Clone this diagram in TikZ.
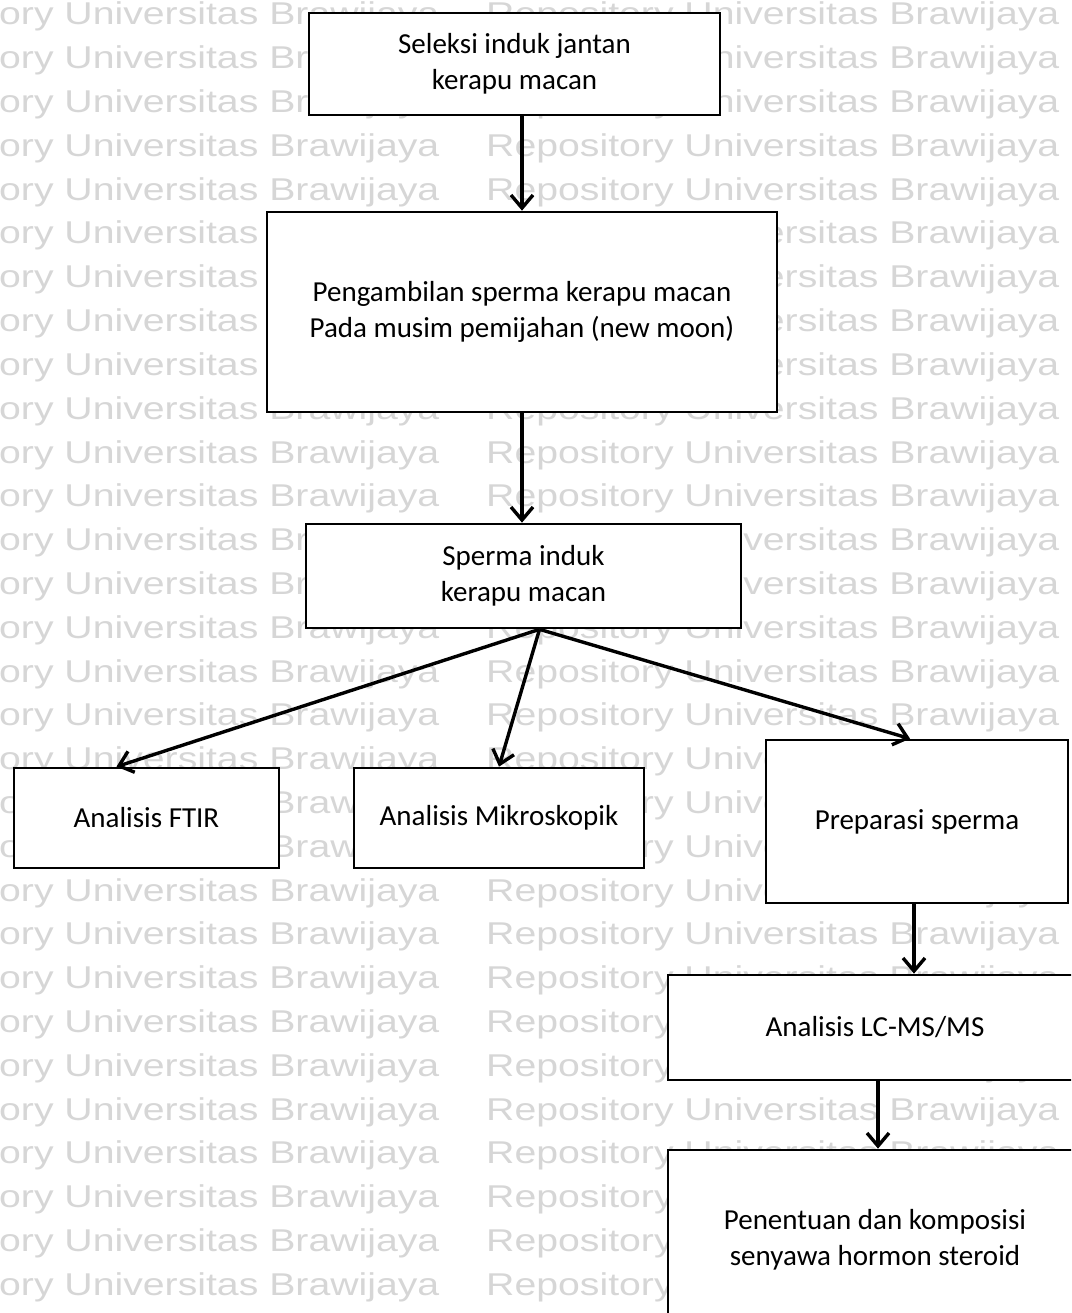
\documentclass[tikz,border=0pt]{standalone}
\usepackage{graphicx}
\usepackage{fontspec}
\setmainfont{Carlito}
\newfontfamily\wmfont{Liberation Sans}
\usetikzlibrary{arrows.meta}
\begin{document}
\begin{tikzpicture}[x=1pt,y=-1pt,
  box/.style={draw=black, line width=2.7pt, fill=white, align=center,
    font=\fontsize{29}{36}\selectfont, inner sep=0pt},
  arr/.style={line width=3.4pt, -{Straight Barb[length=13pt,width=22pt]}},
  wm/.style={anchor=base west, inner sep=0pt, text=black!16,
    font=\fontsize{31.5}{31.5}\wmfont}]
\useasboundingbox (0,0) rectangle (1071,1313);
\begin{scope}
\clip (0,0) rectangle (1071,1313);
% repository background lettering
\foreach \k in {0,...,29}{
  \node[wm] (wl\k) at (-134, 25+43.8*\k) {\scalebox{1.245}[1]{Repository Universitas Brawijaya}};
  \node[wm] (wr\k) at (486, 25+43.8*\k) {\scalebox{1.245}[1]{Repository Universitas Brawijaya}};
}
% process boxes
\node[box, minimum width=411pt, minimum height=102pt] (b1) at (514.5,64) {Seleksi induk jantan\\kerapu macan};
\node[box, minimum width=510pt, minimum height=200pt] (b2) at (522,312) {Pengambilan sperma kerapu macan\\Pada musim pemijahan (new moon)};
\node[box, minimum width=435pt, minimum height=104pt] (b3) at (523.5,576) {Sperma induk\\kerapu macan};
\node[box, minimum width=265pt, minimum height=100pt] (ftir) at (146.5,818) {Analisis FTIR};
\node[box, minimum width=290pt, minimum height=100pt] (mikro) at (499,818) {Analisis Mikroskopik\vphantom{y}};
\node[box, minimum width=302pt, minimum height=163pt] (prep) at (917,821.5) {Preparasi sperma};
\node[box, minimum width=414pt, minimum height=105pt] (lcms) at (875,1027.5) {Analisis LC-MS/MS};
\node[box, minimum width=414pt, minimum height=180pt] (last) at (875,1240) {Penentuan dan komposisi\\senyawa hormon steroid};
% connectors
\draw[arr] (b2.north |- b1.south) -- (b2.north);
\draw[arr] (b2.south) -- (b3.north -| b2.south);
\coordinate (fork) at ([xshift=16pt]b3.south);
\draw[arr] (fork) -- ([xshift=-30pt]ftir.north);
\draw[arr] (fork) -- (mikro.north);
\draw[arr] (fork) -- ([xshift=-7pt]prep.north);
\draw[arr] ([xshift=-3pt]prep.south) -- ([xshift=-3pt]prep.south |- lcms.north);
\draw[arr] ([xshift=3pt]lcms.south) -- ([xshift=3pt]lcms.south |- last.north);
\end{scope}
\end{tikzpicture}
\end{document}
